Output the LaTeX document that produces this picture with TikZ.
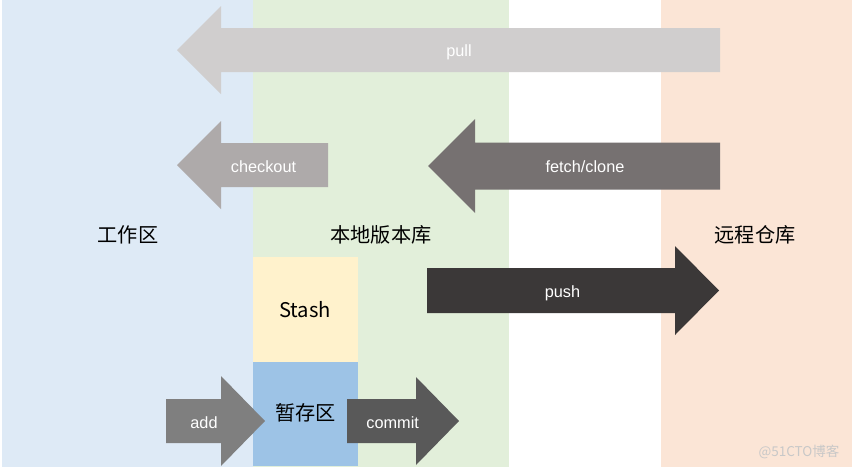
\documentclass[tikz,border=0pt]{standalone}
\usepackage{fontspec}
\setmainfont{Liberation Sans}
\newfontfamily\cjk{Noto Sans CJK SC}
\definecolor{colBlue}{HTML}{DEEAF6}
\definecolor{colGreen}{HTML}{E2EFDA}
\definecolor{colOrange}{HTML}{FBE5D6}
\definecolor{colPull}{HTML}{D0CECE}
\definecolor{colCheckout}{HTML}{AEAAAA}
\definecolor{colFetch}{HTML}{767171}
\definecolor{colPush}{HTML}{3B3838}
\definecolor{colCommit}{HTML}{595959}
\definecolor{colAdd}{HTML}{7F7F7F}
\definecolor{colStash}{HTML}{FFF2CC}
\definecolor{colStage}{HTML}{9DC3E6}
\definecolor{colMark}{HTML}{C8C8C8}
% tip x, head base x, tail x, centre y, body half height, head half height, colour
\newcommand\gitarrow[7]{%
  \fill[#7] (#1,#4) -- (#2,#4-#6) -- (#2,#4-#5) -- (#3,#4-#5) -- (#3,#4+#5)
    -- (#2,#4+#5) -- (#2,#4+#6) -- cycle;}
\tikzset{
  arrlabel/.style={text=white, font=\fontsize{16.3}{19}\selectfont, inner sep=0pt},
  zonelabel/.style={text=black, font=\cjk\fontsize{20.2}{23}\selectfont, inner sep=0pt},
}
\begin{document}
\begin{tikzpicture}[x=1pt,y=-1pt]
\useasboundingbox (0,0) rectangle (852,469);
\fill[white] (0,0) rectangle (852,469);
% columns
\fill[colBlue] (2,0) rectangle (253,467);
\fill[colGreen] (253,0) rectangle (509,467);
\fill[colOrange] (661,0) rectangle (852,467);
% boxes
\fill[colStash] (253,257) rectangle (358,362);
\fill[colStage] (253,362) rectangle (358,466);
% arrows
\gitarrow{177}{221}{720}{50}{22}{44}{colPull}
\gitarrow{177}{221}{328}{165}{22}{44}{colCheckout}
\gitarrow{428}{475}{720}{166}{23.5}{47}{colFetch}
\gitarrow{719}{675}{427}{290.5}{22.5}{44.5}{colPush}
\gitarrow{459}{416}{347}{421}{22}{44}{colCommit}
\gitarrow{265}{221}{166}{421}{22}{45}{colAdd}
% arrow labels
\node[arrlabel] (pull) at (459,52) {pull};
\node[arrlabel] (checkout) at (263.5,167) {checkout};
\node[arrlabel] (fetch) at (585,167) {fetch/clone};
\node[arrlabel] (push) at (562.5,293) {push};
\node[arrlabel] (commit) at (392.7,422.5) {commit};
\node[arrlabel] (add) at (204,423) {add};
% zone labels
\node[zonelabel] (work) at (128,235) {工作区};
\node[zonelabel] (local) at (381,235) {本地版本库};
\node[zonelabel] (remote) at (755,235) {远程仓库};
\node[zonelabel] (stash) at (305,310) {Stash};
\node[zonelabel] (stage) at (305.5,413) {暂存区};
% watermark
\node[text=colMark, font=\cjk\fontsize{13.5}{15}\selectfont, inner sep=0pt] (mark) at (799,452) {@51CTO博客};
\end{tikzpicture}
\end{document}
